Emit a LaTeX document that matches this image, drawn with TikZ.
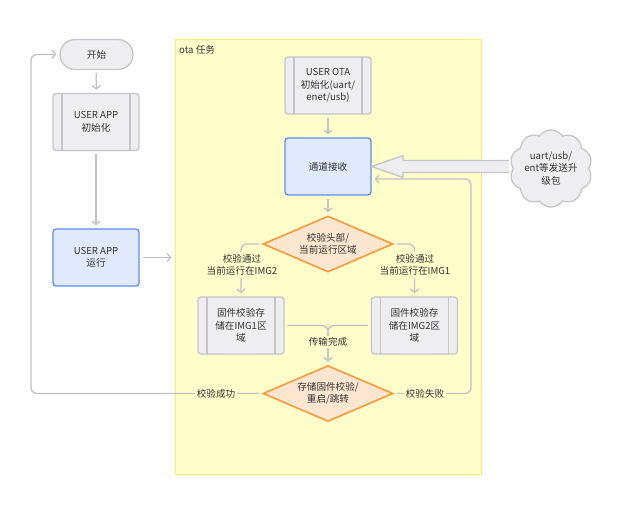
\documentclass[tikz,border=0pt]{standalone}
\usepackage{fontspec}
\setmainfont{Noto Sans CJK SC}
\usetikzlibrary{arrows.meta,shapes.geometric,shapes.symbols,calc}
\definecolor{gfill}{HTML}{EEEEF0}
\definecolor{gline}{HTML}{C4C6CB}
\definecolor{bfill}{HTML}{E1E9FD}
\definecolor{bline}{HTML}{5B8DEF}
\definecolor{ofill}{HTML}{FDE6D0}
\definecolor{oline}{HTML}{F79A3A}
\definecolor{yfill}{HTML}{FFFDCA}
\definecolor{yline}{HTML}{F8EE6C}
\definecolor{conn}{HTML}{C0C2C6}
\definecolor{txt}{HTML}{333333}
\tikzset{
  base/.style={font=\fontsize{9.6}{12.5}\selectfont, text=txt, align=center, line width=1.3pt},
  gproc/.style={base, draw=gline, fill=gfill, rounded corners=3pt, minimum width=86pt, minimum height=57pt,
    path picture={\draw[gline,line width=1.3pt] ([xshift=9pt]path picture bounding box.north west) -- ([xshift=9pt]path picture bounding box.south west);
      \draw[gline,line width=1.3pt] ([xshift=-9pt]path picture bounding box.north east) -- ([xshift=-9pt]path picture bounding box.south east);}},
  bproc/.style={base, draw=bline, fill=bfill, rounded corners=3pt, minimum width=86pt, minimum height=57pt},
  decis/.style={base, draw=oline, fill=ofill, diamond, aspect=2.3, minimum width=130pt, minimum height=56pt, inner sep=0pt, line width=1.6pt},
  pill/.style={base, draw=gline, fill=gfill, rounded corners=15pt, minimum width=73pt, minimum height=30pt},
  cloudy/.style={base, draw=gline, fill=gfill, cloud, cloud puffs=10, cloud puff arc=110, aspect=1.1, minimum width=78pt, minimum height=68pt, inner sep=0pt},
  lab/.style={font=\fontsize{9.6}{12.5}\selectfont, text=txt, align=center, fill=yfill, inner sep=2pt},
  conn/.style={draw=conn, line width=1.3pt, rounded corners=6pt},
  arr/.style={conn, -{Straight Barb[length=3.5pt,width=8pt]}, shorten >=3pt, shorten <=3pt},
}
\begin{document}
\begin{tikzpicture}[x=1pt,y=-1pt]
\useasboundingbox (0,0) rectangle (627,505);
\fill[white] (0,0) rectangle (627,505);
% frame
\node[draw=yline, fill=yfill, line width=1pt, minimum width=306pt, minimum height=434pt, inner sep=0pt] (frame) at (328,257) {};
\node[font=\fontsize{9.6}{12}\selectfont, text=txt, anchor=north west, inner sep=0pt] (ftitle) at (179,45) {ota 任务};
% left column
\node[pill] (start) at (96.5,54.5) {开始};
\node[gproc] (uinit) at (96,122) {USER APP\\初始化};
\node[bproc] (urun) at (96,257.5) {USER APP\\运行};
% ota column
\node[gproc] (oinit) at (328,85.5) {USER OTA\\初始化(uart/\\enet/usb)};
\node[bproc] (recv) at (328,166.5) {通道接收};
\node[decis] (d1) at (328,244) {校验头部/\\当前运行区域};
\node[gproc] (b1) at (241,325.5) {固件校验存\\储在IMG1区\\域};
\node[gproc] (b2) at (414.5,325.5) {固件校验存\\储在IMG2区\\域};
\node[decis] (d2) at (328,393.5) {存储固件校验/\\重启/跳转};
% coordinates
\coordinate (lc) at (31,393.5);
\coordinate (rc) at (471,393.5);
\coordinate (rt) at (471,179);
\coordinate (cw) at (509,166.5);
% connectors
\draw[arr] (start) -- (uinit);
\draw[arr] (uinit) -- (urun);
\draw[arr] (urun.east) -- (urun.east -| frame.west);
\draw[arr] (oinit) -- (recv);
\draw[arr] (recv) -- (d1);
\draw[arr] (d1.west) -| (b1.north);
\draw[arr] (d1.east) -| (b2.north);
\draw[arr] (b1.east) -| (d2.north);
\draw[arr] (b2.west) -| (d2.north);
\draw[arr] (d2.west) -- (lc) -- (lc |- start) -- (start.west);
\draw[arr] (d2.east) -- (rc) -- (rt) -- (rt -| recv.east);
% labels
\node[lab] (l1) at (242,265) {校验通过\\当前运行在IMG2};
\node[lab] (l2) at (415,265) {校验通过\\当前运行在IMG1};
\node[lab] (l3) at (328,342) {传输完成};
\node[lab] (l4) at (216,393.5) {校验成功};
\node[lab] (l5) at (425,393.5) {校验失败};
% big hollow arrow
\draw[gline, fill=gfill, line width=1.3pt, line join=round]
  (cw |- 0,160.5) -- (403,160.5) -- (403,155.5) -- (recv.east) -- (403,177.5) -- (403,172.5) -- (cw |- 0,172.5);
\node[cloudy] (cl) at (551,168.5) {uart/usb/\\ent等发送升\\级包};
\end{tikzpicture}
\end{document}
